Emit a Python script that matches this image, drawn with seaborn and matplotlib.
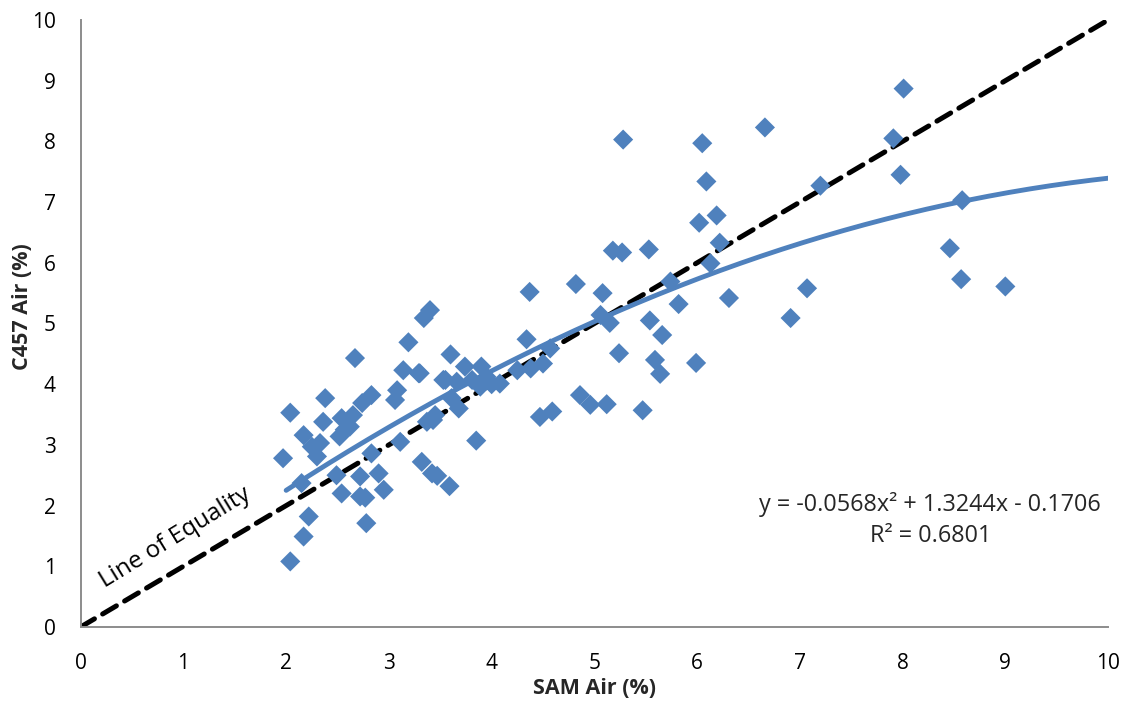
import numpy as np
import pandas as pd
import matplotlib
matplotlib.use("Agg")
import matplotlib.pyplot as plt
import seaborn as sns

# SAM vs C457 air content readings (%)
sam_air = [
    2.04, 2.17, 2.22, 2.15, 1.97, 2.04, 2.17, 2.25, 2.30, 2.33,
    2.36, 2.38, 2.52, 2.54, 2.57, 2.62, 2.49, 2.54, 2.67, 2.65,
    2.72, 2.77, 2.72, 2.78, 2.74, 2.83, 2.83, 2.90, 2.95, 3.08,
    3.06, 3.11, 3.19, 3.14, 3.29, 3.34, 3.40, 3.30, 3.32, 3.42,
    3.47, 3.59, 3.43, 3.37, 3.53, 3.60, 3.45, 3.61, 3.68, 3.74,
    3.90, 3.95, 3.55, 3.66, 3.81, 3.89, 4.08, 4.00, 3.85, 4.37,
    4.34, 4.57, 4.25, 4.38, 4.50, 4.86, 4.96, 5.12, 4.47, 4.59,
    5.47, 4.82, 5.08, 5.06, 5.15, 5.24, 5.54, 5.66, 5.59, 5.64,
    5.18, 5.27, 5.53, 5.74, 5.82, 5.99, 6.31, 6.02, 6.19, 6.22,
    6.13, 6.09, 6.05, 5.28, 6.66, 7.20, 7.07, 6.91, 7.91, 8.01,
    7.98, 8.58, 8.46, 8.57, 9.00,
]
c457_air = [
    1.08, 1.49, 1.82, 2.37, 2.78, 3.53, 3.16, 2.97, 2.81, 3.03,
    3.38, 3.77, 3.14, 3.44, 3.25, 3.30, 2.50, 2.20, 4.43, 3.49,
    2.48, 2.13, 2.15, 1.71, 3.69, 3.82, 2.86, 2.53, 2.26, 3.90,
    3.74, 3.05, 4.69, 4.23, 4.18, 5.09, 5.22, 4.18, 2.72, 2.53,
    2.49, 2.32, 3.41, 3.38, 4.07, 4.49, 3.49, 3.77, 3.60, 4.29,
    4.29, 4.12, 4.07, 4.04, 4.07, 3.96, 4.01, 4.00, 3.07, 5.52,
    4.74, 4.59, 4.23, 4.26, 4.34, 3.82, 3.66, 3.67, 3.46, 3.55,
    3.57, 5.65, 5.50, 5.14, 5.01, 4.51, 5.05, 4.81, 4.40, 4.17,
    6.20, 6.17, 6.22, 5.69, 5.32, 4.35, 5.42, 6.66, 6.78, 6.33,
    5.99, 7.34, 7.97, 8.03, 8.23, 7.27, 5.58, 5.09, 8.05, 8.87,
    7.45, 7.03, 6.24, 5.73, 5.61,
]

# Second-order polynomial trendline coefficients and fit statistic
trend_coef = [-0.0568, 1.3244, -0.1706]
r_squared = 0.6801
trend_range = [2.0, 10.0]

x_ticks = list(range(0, 11))
y_ticks = list(range(0, 11))

blue = "#4f81bd"

sns.set_style("white")
plt.rcParams["font.family"] = ["Open Sans", "DejaVu Sans"]

fig = plt.figure(figsize=(11.33, 7.07), dpi=100)
ax = fig.add_axes([0.0712, 0.1132, 0.9068, 0.8585])

df = pd.DataFrame({"SAM": sam_air, "C457": c457_air})

# line of equality
eq = pd.DataFrame({"x": [0, 10], "y": [0, 10]})
sns.lineplot(data=eq, x="x", y="y", ax=ax, color="black", lw=3.6,
             dashes=False, zorder=2)
ax.lines[-1].set_dashes((3.2, 1.9))
ax.lines[-1].set_dash_capstyle("round")

sns.scatterplot(data=df, x="SAM", y="C457", ax=ax, marker="D", s=105,
                color=blue, edgecolor="none", linewidth=0, zorder=3)

# polynomial trendline
xs = np.linspace(trend_range[0], trend_range[1], 200)
ys = np.polyval(trend_coef, xs)
sns.lineplot(x=xs, y=ys, ax=ax, color=blue, lw=3.5, zorder=4)

ax.set_xlim(0, 10)
ax.set_ylim(0, 10)
ax.set_xticks(x_ticks)
ax.set_yticks(y_ticks)
ax.tick_params(axis="both", length=0, labelsize=15, colors="black")
ax.tick_params(axis="x", pad=19)
ax.tick_params(axis="y", pad=18)

for side in ["top", "right"]:
    ax.spines[side].set_visible(False)
for side in ["left", "bottom"]:
    ax.spines[side].set_color("#8c8c8c")
    ax.spines[side].set_linewidth(1.4)

ax.set_xlabel("SAM Air (%)", fontsize=15.5, fontweight="bold")
ax.set_ylabel("C457 Air (%)", fontsize=15.5, fontweight="bold")
ax.xaxis.set_label_coords(0.5, -0.084)
ax.yaxis.set_label_coords(-0.046, 0.527)

ax.text(0.92, 1.47, "Line of Equality", rotation=31.5, fontsize=17.5,
        ha="center", va="center", rotation_mode="anchor", color="black")

a, b, c = trend_coef
eq_text = f"y = {a:.4f}x\u00b2 + {b:.4f}x - {abs(c):.4f}"
ax.text(8.27, 2.02, eq_text, fontsize=16.8, ha="center", va="center")
ax.text(8.27, 1.5, f"R\u00b2 = {r_squared:.4f}", fontsize=16.8,
        ha="center", va="center")

fig.savefig("out.png", dpi=100)
